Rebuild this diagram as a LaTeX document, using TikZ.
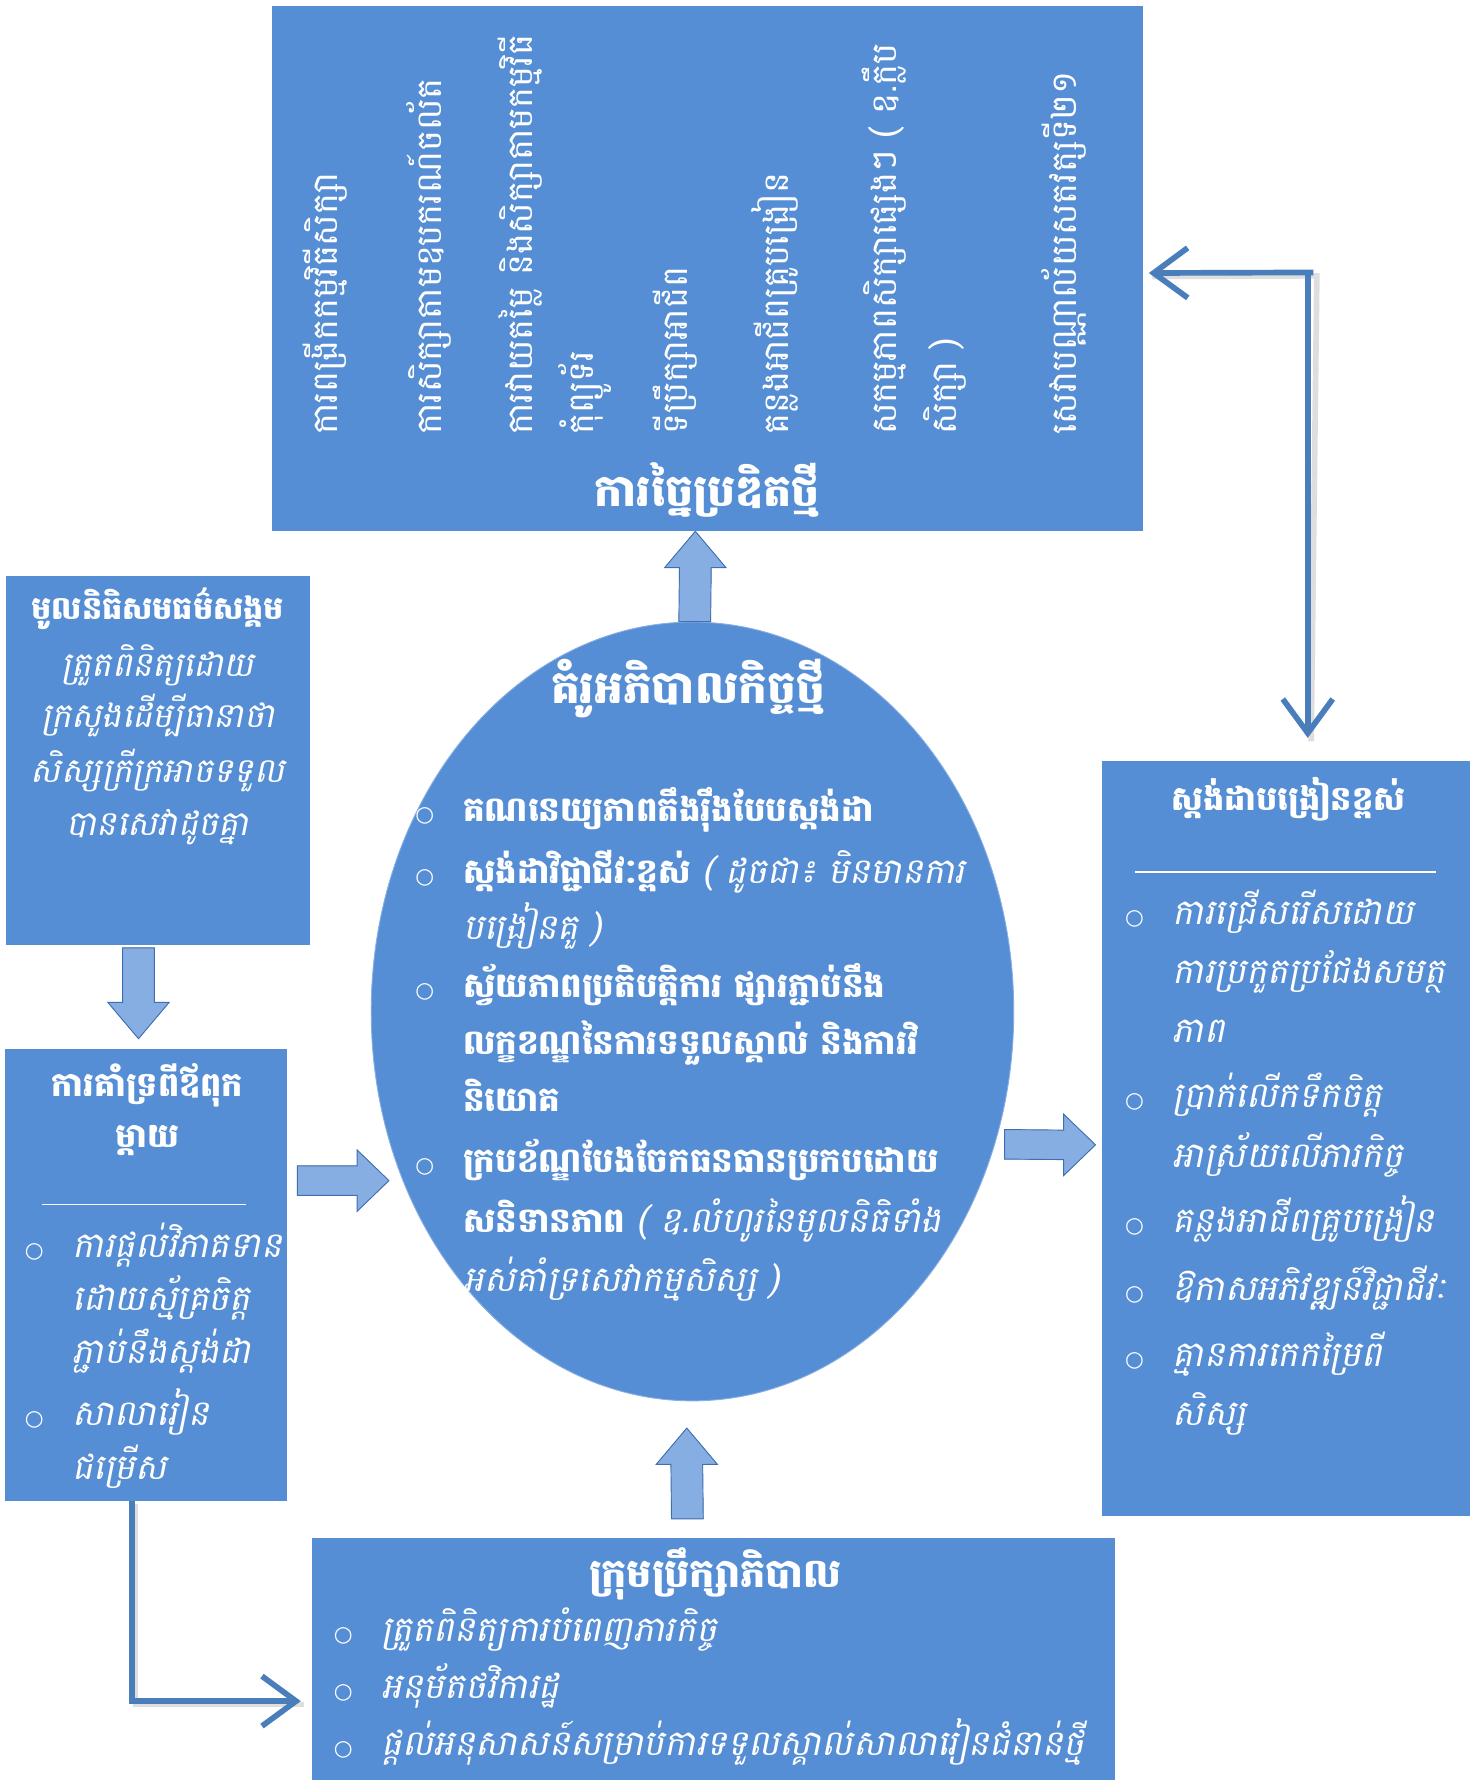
\documentclass[tikz,border=0pt]{standalone}
\usepackage{fontspec}
\newfontfamily\km[Script=Khmer,AutoFakeSlant=0.2]{Battambang}
\newfontfamily\dv{DejaVu Sans}
\usetikzlibrary{arrows.meta,calc,shapes.geometric}
\definecolor{boxblue}{HTML}{558ED5}
\definecolor{linkblue}{HTML}{4A7EBB}
\definecolor{blkL}{HTML}{86AEE3}
\definecolor{blkM}{HTML}{4F80C9}
\definecolor{blkD}{HTML}{3F6FB0}
\newcommand\bul{\makebox[42pt][l]{\dv\fontsize{19}{19}\selectfont ○}}
\newcommand\vblk[3]{\filldraw[blkv] (#1) -- ($(#1)+(27,#3)$) -- ($(#1)+(14,#3)$) -- ($(#2)+(14,0)$) -- ($(#2)+(-14,0)$) -- ($(#1)+(-14,#3)$) -- ($(#1)+(-27,#3)$) -- cycle;}
\newcommand\hblk[3]{\filldraw[blkh] (#1) -- ($(#1)+(#3,-27)$) -- ($(#1)+(#3,-13)$) -- ($(#2)+(0,-13)$) -- ($(#2)+(0,13)$) -- ($(#1)+(#3,13)$) -- ($(#1)+(#3,27)$) -- cycle;}
\newcommand\rg[1]{{\mdseries\fontsize{31}{36}\selectfont #1}}
\begin{document}
\begin{tikzpicture}[x=1pt,y=-1pt,
  box/.style={fill=boxblue,draw=none,inner sep=0,outer sep=0,anchor=north west},
  kt/.style={text=white,inner sep=0,outer sep=0,anchor=base west,font=\km\itshape\fontsize{31}{36}\selectfont},
  ktb/.style={kt,font=\km\bfseries\itshape\fontsize{30}{36}\selectfont},
  ktc/.style={kt,anchor=base},
  ktbc/.style={kt,anchor=base,font=\km\bfseries\itshape\fontsize{29.5}{36}\selectfont},
  ttl/.style={text=white,inner sep=0,anchor=base,font=\km\bfseries\fontsize{39}{44}\selectfont},
  vt/.style={text=white,inner sep=0,outer sep=0,anchor=base west,rotate=90,font=\km\fontsize{31}{36}\selectfont},
  sep/.style={draw=white,line width=1.5pt},
  blkv/.style={left color=blkL,middle color=blkM,right color=blkL,draw=blkD,line width=0.8pt},
  blkh/.style={top color=blkL,middle color=blkM,bottom color=blkL,draw=blkD,line width=0.8pt},
  conn/.style={draw=linkblue,line width=5pt},
  shd/.style={draw=black!25,line width=5pt,opacity=0.5},
  tipb/.style={arrows={-Straight Barb[length=30pt,width=44pt,line width=5pt]}}
]
\useasboundingbox (0,0) rectangle (1298,1568);
\fill[white] (0,0) rectangle (1298,1568);

% boxes
\node[box,minimum width=767pt,minimum height=463pt] (top) at (240,5) {};
\node[box,minimum width=268pt,minimum height=325pt] (lt) at (5,507) {};
\node[box,minimum width=249pt,minimum height=398pt] (lb) at (4,924) {};
\node[box,minimum width=324pt,minimum height=665pt] (rb) at (971,670) {};
\node[box,minimum width=707pt,minimum height=215pt] (bot) at (275,1355) {};
\node[ellipse,fill=boxblue,draw=blkL,line width=0.8pt,minimum width=566pt,minimum height=686pt,inner sep=0] (ell) at (610,891) {};

% block arrows
\coordinate (a1t) at ($(top.south)+(-11,0)$);
\coordinate (a1b) at ($(ell.north)+(2,0)$);
\vblk{a1t}{a1b}{32}
\coordinate (a2t) at (122,915);
\coordinate (a2b) at ($(lt.south)+(-17,3)$);
\vblk{a2t}{a2b}{-32}
\coordinate (a4t) at (605,1258);
\coordinate (a4b) at ($(bot.north)+(-23,-17)$);
\vblk{a4t}{a4b}{32}
\coordinate (a3t) at ($(ell.west)+(16,149)$);
\coordinate (a3b) at ($(lb.east)+(9,-83)$);
\hblk{a3t}{a3b}{-28}
\coordinate (a5t) at ($(rb.west)+(-6,6)$);
\coordinate (a5b) at (885,1008);
\hblk{a5t}{a5b}{-28}

% elbow connectors
\coordinate (k1) at (1152,240);
\coordinate (k1l) at ($(top.east)+(5,4)$);
\coordinate (k1d) at ($(rb.north west)+(181,-20)$);
\draw[shd] ($(k1l)+(3,3)$) -- ($(k1)+(8,3)$) -- ($(k1d)+(3,3)$);
\draw[conn,tipb] ($(k1)+(5,0)$) -- (k1l);
\draw[conn,tipb] (k1) -- (k1d);
\coordinate (k2s) at ($(lb.south)+(-12,0)$);
\coordinate (k2e) at ($(bot.west)+(-10,36)$);
\draw[shd] ($(k2s)+(3,3)$) |- ($(k2e)+(3,3)$);
\draw[conn,tipb] (k2s) |- (k2e);

% top box texts (vertical)
\node[vt] (c1) at (297,383) {ការពង្រីកកម្មវិធីសិក្សា};
\node[vt] (c2) at (389,383) {ការសិក្សាតាមឧបករណ៍ចល័ត};
\node[vt] (c3) at (469,383) {ការវាយតម្លៃ និងសិក្សាតាមកម្មវិធី};
\node[vt] (c3b) at (523,383) {កុំព្យូទ័រ};
\node[vt] (c4) at (606,383) {ទីប្រឹក្សាអាជីព};
\node[vt] (c5) at (695,383) {គន្លងអាជីពគ្រូបង្រៀន};
\node[vt] (c6) at (790,383) {សកម្មភាពសិក្សាផ្សេងៗ ( ឧ.ក្លឹប};
\node[vt] (c6b) at (843,383) {សិក្សា )};
\node[vt] (c7) at (948,383) {សេវាបណ្ណាល័យសតវត្សទី២១};
\node[ttl] (ttop) at (623,446) {ការច្នៃប្រឌិតថ្មី};

% ellipse texts
\node[ttl,font=\km\bfseries\fontsize{40}{44}\selectfont] (tell) at (606,620) {គំរូអភិបាលកិច្ចថ្មី};
\node[ktb] (e1) at (366,724) {\bul គណនេយ្យភាពតឹងរ៉ឹងបែបស្តង់ដា};
\node[ktb] (e2) at (366,778) {\bul ស្តង់ដាវិជ្ជាជីវៈខ្ពស់ \rg{( ដូចជា៖ មិនមានការ}};
\node[kt] (e3) at (408,828) {បង្រៀនគួ )};
\node[ktb] (e4) at (366,879) {\bul ស្វ័យភាពប្រតិបត្តិការ ផ្សារភ្ជាប់នឹង};
\node[ktb] (e5) at (408,929) {លក្ខខណ្ឌនៃការទទួលស្គាល់ និងការវិ};
\node[ktb] (e6) at (408,979) {និយោគ};
\node[ktb] (e7) at (366,1033) {\bul ក្របខ័ណ្ឌបែងចែកធនធានប្រកបដោយ};
\node[ktb] (e8) at (408,1086) {សនិទានភាព \rg{( ឧ.លំហូរនៃមូលនិធិទាំង}};
\node[kt] (e9) at (408,1138) {អស់គាំទ្រសេវាកម្មសិស្ស )};

% left top box
\node[ktbc,font=\km\bfseries\itshape\fontsize{28}{36}\selectfont] (l1) at (139,546) {មូលនិធិសមធម៌សង្គម};
\node[ktc,font=\km\itshape\fontsize{30}{36}\selectfont] (l2) at (139,596) {ត្រួតពិនិត្យដោយ};
\node[ktc,font=\km\itshape\fontsize{30}{36}\selectfont] (l3) at (139,641) {ក្រសួងដើម្បីធានាថា};
\node[ktc,font=\km\itshape\fontsize{30}{36}\selectfont] (l4) at (139,689) {សិស្សក្រីក្រអាចទទួល};
\node[ktc,font=\km\itshape\fontsize{30}{36}\selectfont] (l5) at (139,736) {បានសេវាដូចគ្នា};

% left bottom box
\node[ktbc] (m1) at (130,966) {ការគាំទ្រពីឪពុក};
\node[ktbc] (m2) at (130,1011) {ម្តាយ};
\draw[sep] (37,1061) -- (217,1061);
\node[kt] (m3) at (22,1108) {\bul ការផ្តល់វិភាគទាន};
\node[kt] (m4) at (64,1154) {ដោយស្ម័គ្រចិត្ត};
\node[kt] (m5) at (64,1201) {ភ្ជាប់នឹងស្តង់ដា};
\node[kt] (m6) at (22,1256) {\bul សាលារៀន};
\node[kt] (m7) at (64,1303) {ជម្រើស};

% right box
\node[ktbc] (r0) at (1135,714) {ស្តង់ដាបង្រៀនខ្ពស់};
\draw[sep] (1000,768) -- (1265,768);
\node[kt] (r1) at (991,814) {\bul ការជ្រើសរើសដោយ};
\node[kt] (r2) at (1033,866) {ការប្រកួតប្រជែងសមត្ថ};
\node[kt] (r3) at (1033,918) {ភាព};
\node[kt] (r4) at (991,976) {\bul ប្រាក់លើកទឹកចិត្ត};
\node[kt] (r5) at (1033,1028) {អាស្រ័យលើភារកិច្ច};
\node[kt] (r6) at (991,1086) {\bul គន្លងអាជីពគ្រូបង្រៀន};
\node[kt] (r7) at (991,1146) {\bul ឱកាសអភិវឌ្ឍន៍វិជ្ជាជីវៈ};
\node[kt] (r8) at (991,1204) {\bul គ្មានការកេកម្រៃពី};
\node[kt] (r9) at (1033,1256) {សិស្ស};

% bottom box
\node[ttl,font=\km\bfseries\itshape\fontsize{35}{40}\selectfont] (b0) at (630,1398) {ក្រុមប្រឹក្សាភិបាល};
\node[kt] (b1) at (294,1446) {\bul ត្រួតពិនិត្យការបំពេញភារកិច្ច};
\node[kt] (b2) at (294,1496) {\bul អនុម័តថវិការដ្ឋ};
\node[kt] (b3) at (294,1546) {\bul ផ្តល់អនុសាសន៍សម្រាប់ការទទួលស្គាល់សាលារៀនជំនាន់ថ្មី};
\end{tikzpicture}
\end{document}
